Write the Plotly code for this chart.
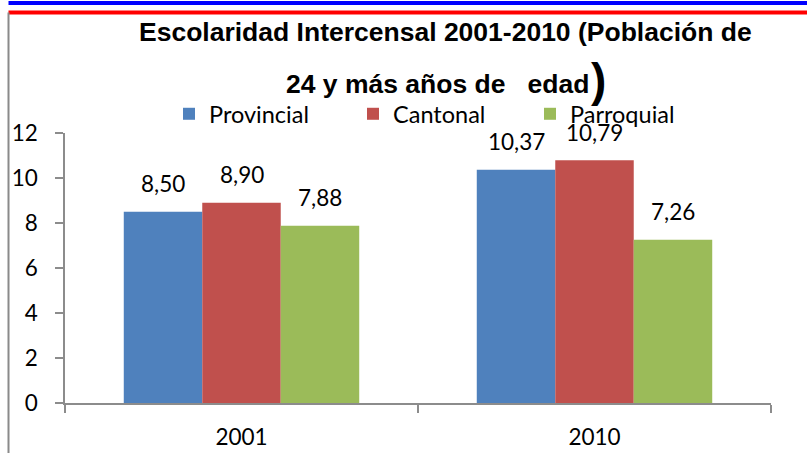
import plotly.graph_objects as go

categories = ["2001", "2010"]
series_names = ["Provincial", "Cantonal", "Parroquial"]
provincial = [8.50, 10.37]
cantonal = [8.90, 10.79]
parroquial = [7.88, 7.26]
colors = ["#4F81BD", "#C0504D", "#9BBB59"]
y_ticks = [0, 2, 4, 6, 8, 10, 12]
title_line1 = "Escolaridad Intercensal 2001-2010 (Población de"
title_line2 = "24 y más años de\u00a0\u00a0\u00a0edad"

W, H = 807, 453
L, R, T, B = 65, 36, 133, 50
PW, PH = W - L - R, H - T - B

def px(x):
    return (x - L) / PW

def py(y):
    return (H - B - y) / PH

TXT = "Lato, 'Open Sans', sans-serif"
TFONT = "'Liberation Sans', Arial, sans-serif"
BORDER = "#8a8a8a"

legend_ids = ["legend", "legend2", "legend3"]
legend_left = [169, 353, 530]

fig = go.Figure()
all_vals = [provincial, cantonal, parroquial]
for name, vals, c, lg in zip(series_names, all_vals, colors, legend_ids):
    fig.add_trace(go.Bar(name=name, x=categories, y=vals, legend=lg,
                         marker=dict(color=c, line=dict(width=0))))

bar_w = PW / len(categories) * (1 - 0.333) / 3
annotations = []
for i, vals in enumerate(all_vals):
    for ci, v in enumerate(vals):
        annotations.append(dict(
            x=ci, y=v, xref="x", yref="y", text=f"{v:.2f}".replace(".", ","),
            showarrow=False, xshift=(i - 1) * bar_w, yshift=28, yanchor="middle",
            font=dict(family=TXT, size=22.5, color="#000000")))

annotations.append(dict(x=px(445.5), y=py(32), xref="paper", yref="paper", text=f"<b>{title_line1}</b>",
                        showarrow=False, xanchor="center", yanchor="middle",
                        font=dict(family=TFONT, size=26.5, color="#000000")))
annotations.append(dict(x=px(437.5), y=py(84), xref="paper", yref="paper", text=f"<b>{title_line2}</b>",
                        showarrow=False, xanchor="center", yanchor="middle",
                        font=dict(family=TFONT, size=26.5, color="#000000")))
annotations.append(dict(x=px(598), y=py(80), xref="paper", yref="paper", text="<b>)</b>",
                        showarrow=False, xanchor="center", yanchor="middle",
                        font=dict(family=TFONT, size=46, color="#000000")))

legend_common = dict(orientation="h", xanchor="left", yanchor="middle", y=py(114),
                     font=dict(family=TXT, size=23.5, color="#000000"),
                     bgcolor="rgba(0,0,0,0)")
legends = {}
for lg, xl in zip(legend_ids, legend_left):
    legends[lg] = dict(legend_common, x=px(xl))

fig.update_layout(
    width=W, height=H,
    margin=dict(l=L, r=R, t=T, b=B, autoexpand=False),
    paper_bgcolor="white", plot_bgcolor="white",
    barmode="group", bargap=0.333, bargroupgap=0,
    showlegend=True,
    xaxis=dict(type="category", categoryorder="array", categoryarray=categories,
               range=[-0.5, len(categories) - 0.5],
               showline=True, linecolor="#8c8c8c", linewidth=1.5,
               ticks="outside", tickson="boundaries", ticklen=8, tickcolor="#8c8c8c", tickwidth=1.5,
               showgrid=False, zeroline=False, ticklabelstandoff=13,
               tickfont=dict(family=TXT, size=22.5, color="#000000")),
    yaxis=dict(range=[0, 12], tickvals=y_ticks, showline=True, linecolor="#8c8c8c", linewidth=1.5,
               ticks="outside", ticklen=8, tickcolor="#8c8c8c", tickwidth=1.5,
               showgrid=False, zeroline=False, ticklabelstandoff=13,
               tickfont=dict(family=TXT, size=22.5, color="#000000")),
    annotations=annotations,
    shapes=[
        dict(type="line", xref="paper", yref="paper", x0=px(8.5), x1=px(807), y0=py(12.5), y1=py(12.5),
             line=dict(color="red", width=4)),
        dict(type="line", xref="paper", yref="paper", x0=px(8.5), x1=px(807), y0=py(3), y1=py(3),
             line=dict(color="blue", width=4)),
        dict(type="line", xref="paper", yref="paper", x0=px(8.5), x1=px(8.5), y0=py(12.5), y1=py(453),
             line=dict(color=BORDER, width=2)),
    ],
    **legends,
)

fig.write_html("out.html", config={"displayModeBar": False},
               post_script="document.body.style.margin='0';document.body.style.overflow='hidden';")
